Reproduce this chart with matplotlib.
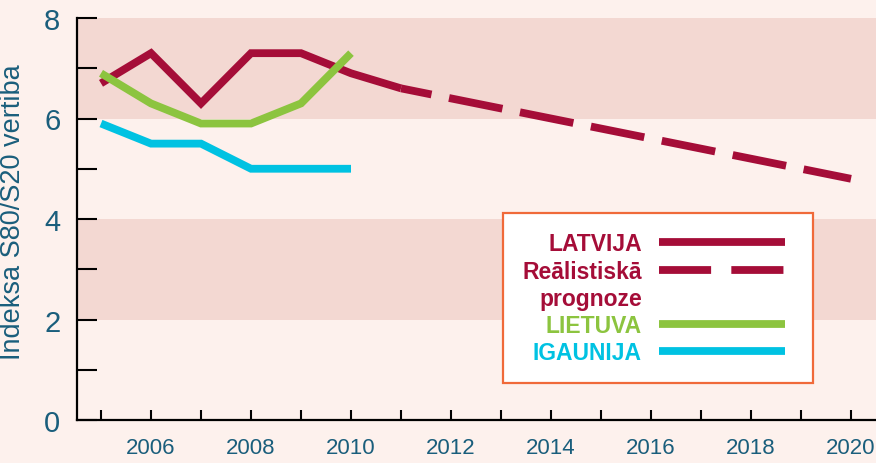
import matplotlib
matplotlib.use('Agg')
import matplotlib.pyplot as plt
from matplotlib.lines import Line2D
from matplotlib.ticker import MultipleLocator

# Data
years = [2005, 2006, 2007, 2008, 2009, 2010, 2011]
latvija = [6.7, 7.3, 6.3, 7.3, 7.3, 6.9, 6.6]

forecast_years = [2011, 2012, 2013, 2014, 2015, 2016, 2017, 2018, 2019, 2020]
forecast = [6.6, 6.4, 6.2, 6.0, 5.8, 5.6, 5.4, 5.2, 5.0, 4.8]

other_years = [2005, 2006, 2007, 2008, 2009, 2010]
lietuva = [6.9, 6.3, 5.9, 5.9, 6.3, 7.3]
igaunija = [5.9, 5.5, 5.5, 5.0, 5.0, 5.0]

bands = [(2, 4), (6, 8)]
legend_labels = ['LATVIJA', 'Reālistiskā', 'prognoze', 'LIETUVA', 'IGAUNIJA']

# Colours
bg = '#fdf1ed'
band_color = '#f3d8d2'
red = '#a50d38'
green = '#8cc43f'
cyan = '#00c2e2'
teal = '#1a5e7c'
orange = '#f06a3a'

plt.rcParams['font.family'] = ['Liberation Sans', 'DejaVu Sans']

fig = plt.figure(figsize=(8.76, 4.64), dpi=100, facecolor=bg)
ax = fig.add_axes([77 / 876, 1 - 421 / 464, 1 - 77 / 876, 402 / 464])
ax.set_facecolor(bg)

# Shaded bands
for lo, hi in bands:
    ax.axhspan(lo, hi, color=band_color, zorder=0, lw=0)

lw = 5.6
style = dict(lw=lw, solid_joinstyle='miter', solid_capstyle='butt')
ax.plot(years, latvija, color=red, **style)
ax.plot(forecast_years, forecast, color=red, lw=lw,
        linestyle=(3, (7.0, 2.3)))
ax.plot(other_years, lietuva, color=green, **style)
ax.plot(other_years, igaunija, color=cyan, **style)

ax.set_xlim(2004.52, 2020.5)
ax.set_ylim(0, 8)

# Spines and ticks
ax.spines['top'].set_visible(False)
ax.spines['right'].set_visible(False)
ax.spines['left'].set_linewidth(1.6)
ax.spines['bottom'].set_linewidth(1.6)

ax.xaxis.set_major_locator(MultipleLocator(2))
ax.xaxis.set_minor_locator(MultipleLocator(1))
ax.yaxis.set_major_locator(MultipleLocator(2))
ax.yaxis.set_minor_locator(MultipleLocator(1))

ax.tick_params(axis='y', which='both', direction='in', length=14.5,
               width=1.5, labelsize=21, labelcolor=teal, pad=12)
ax.tick_params(axis='x', which='both', direction='in', length=7.5,
               width=1.5, labelsize=16, labelcolor=teal, pad=12)

ax.set_ylabel('Indeksa S80/S20 vertiba', fontsize=19.5, color=teal)
ax.yaxis.set_label_coords(-0.064, 0.52)

# Legend
handles = [
    Line2D([], [], color=red, **style),
    Line2D([], [], color=red, lw=lw, linestyle=(0, (6.7, 2.6))),
    Line2D([], [], alpha=0),
    Line2D([], [], color=green, **style),
    Line2D([], [], color=cyan, **style),
]
leg = ax.legend(handles, legend_labels, loc='upper left',
                bbox_to_anchor=(0.533, 0.515, 0.388, 0.0), mode='expand',
                borderaxespad=0, markerfirst=False, handlelength=5.5,
                handletextpad=0.75, labelspacing=0.18, borderpad=0.85,
                fancybox=False, framealpha=1, facecolor='white',
                edgecolor=orange, prop={'weight': 'bold', 'size': 16.5})
leg.get_frame().set_linewidth(1.6)
for text, c in zip(leg.get_texts(), [red, red, red, green, cyan]):
    text.set_color(c)

fig.savefig('out.png', dpi=100, facecolor=bg)
